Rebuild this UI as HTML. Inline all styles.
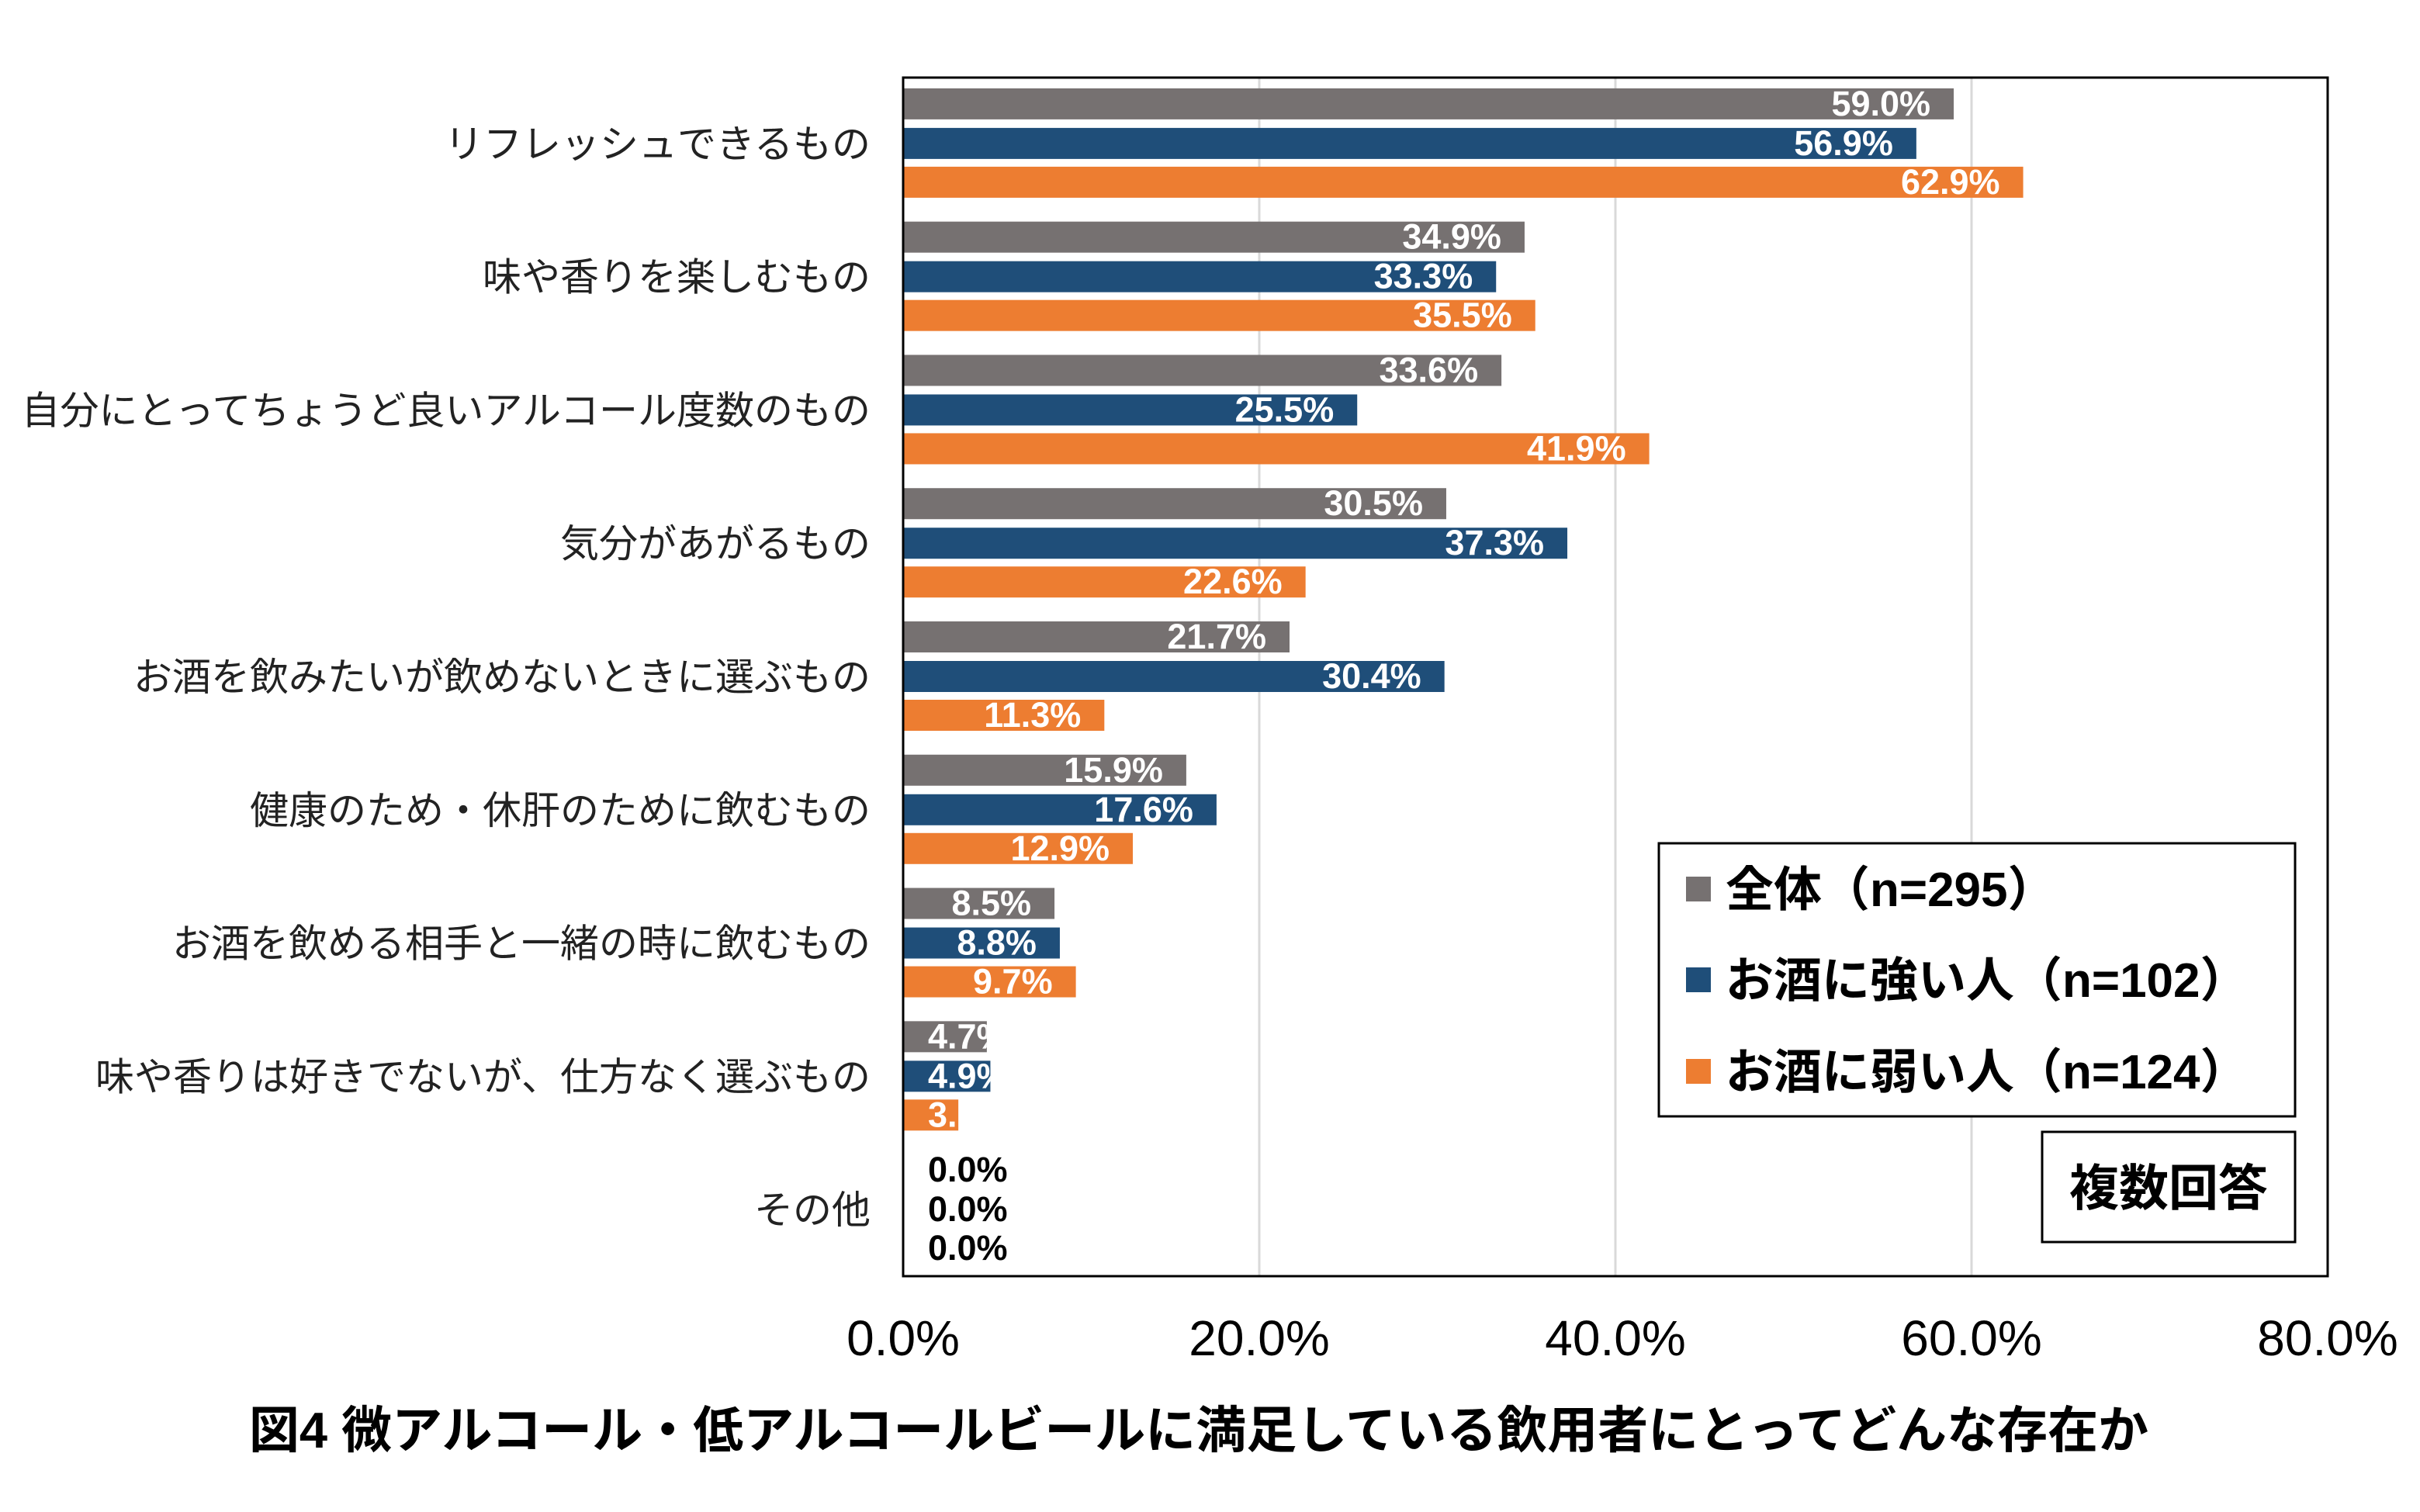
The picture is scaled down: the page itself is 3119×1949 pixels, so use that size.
<!DOCTYPE html>
<html><head><meta charset="utf-8"><style>
html,body{margin:0;padding:0;background:#fff;}
svg{display:block;font-family:"Liberation Sans","Noto Sans CJK JP",sans-serif;}
</style></head><body>
<svg id="chart" width="3119" height="1949" viewBox="0 0 3119 1949" xmlns="http://www.w3.org/2000/svg">
<defs id="defs"></defs>
<g id="grid"></g>
<g id="bars"></g>
<rect x="1164" y="100" width="1836" height="1545" fill="none" stroke="#000" stroke-width="3"/>
<g id="cats"></g>
<g id="xticks"></g>
<g>
<rect x="2138" y="1087" width="820" height="352" fill="#fff" stroke="#000" stroke-width="3"/>
<rect x="2173" y="1130" width="32" height="32" fill="#767171"/>
<text x="2224" y="1168" font-size="62" font-weight="bold">全体（n=295）</text>
<rect x="2173" y="1247" width="32" height="32" fill="#1F4E79"/>
<text x="2224" y="1285" font-size="62" font-weight="bold">お酒に強い人（n=102）</text>
<rect x="2173" y="1365" width="32" height="32" fill="#ED7D31"/>
<text x="2224" y="1403" font-size="62" font-weight="bold">お酒に弱い人（n=124）</text>
</g>
<rect x="2632" y="1459" width="326" height="142" fill="#fff" stroke="#000" stroke-width="3"/>
<text x="2795" y="1554" font-size="64" font-weight="bold" text-anchor="middle">複数回答</text>
<text x="1545" y="1866" font-size="65" font-weight="bold" text-anchor="middle">図4 微アルコール・低アルコールビールに満足している飲用者にとってどんな存在か</text>
</svg>
<script>
const categories=["リフレッシュできるもの","味や香りを楽しむもの","自分にとってちょうど良いアルコール度数のもの","気分があがるもの","お酒を飲みたいが飲めないときに選ぶもの","健康のため・休肝のために飲むもの","お酒を飲める相手と一緒の時に飲むもの","味や香りは好きでないが、仕方なく選ぶもの","その他"];
const seriesAll=[59.0,34.9,33.6,30.5,21.7,15.9,8.5,4.7,0.0];
const seriesStrong=[56.9,33.3,25.5,37.3,30.4,17.6,8.8,4.9,0.0];
const seriesWeak=[62.9,35.5,41.9,22.6,11.3,12.9,9.7,3.1,0.0];
const tickValues=[0,20,40,60,80];
const tickLabels=["0.0%","20.0%","40.0%","60.0%","80.0%"];
const NS="http://www.w3.org/2000/svg";
const X0=1164,X1=3000,Y0=99,Y1=1645;
function xs(v){return X0+(v/80)*(X1-X0);}
function band(i){return Y0+(i+0.5)*(Y1-Y0)/categories.length;}
function mk(tag,attrs,parent){const e=document.createElementNS(NS,tag);for(const k in attrs)e.setAttribute(k,attrs[k]);parent.appendChild(e);return e;}
const grid=document.getElementById('grid'),bars=document.getElementById('bars'),cats=document.getElementById('cats'),xt=document.getElementById('xticks'),defs=document.getElementById('defs');
tickValues.forEach((t,i)=>{
 if(t>0&&t<80){const l=mk('line',{x1:xs(t),x2:xs(t),y1:Y0,y2:Y1,stroke:'#d9d9d9','stroke-width':3},grid);
 
 }
 const tx=mk('text',{x:xs(t),y:1747,'font-size':64,'text-anchor':'middle',fill:'#000'},xt);tx.textContent=tickLabels[i];
 
 
});
const series=[{d:seriesAll,c:'#767171',o:-51,n:'all'},{d:seriesStrong,c:'#1F4E79',o:0,n:'strong'},{d:seriesWeak,c:'#ED7D31',o:50,n:'weak'}];
let cid=0;
categories.forEach((cat,i)=>{
 const cy=band(i);
 const ct=mk('text',{x:1122,y:cy+18,'font-size':50,'text-anchor':'end',fill:'#222'},cats);ct.textContent=cat;
 
 
 series.forEach(s=>{
  const v=s.d[i],y=cy+s.o-20,w=xs(v)-X0;
  if(v>0){const r=mk('rect',{x:X0,y:y,width:w,height:40,fill:s.c},bars);
   
   }
  let t;
  if(v===0){t=mk('text',{x:1196,y:y+35,'font-size':45,'font-weight':'bold',fill:'#000'},bars);}
  else if(w<150){const id='clip'+(cid++);const cp=mk('clipPath',{id:id},defs);mk('rect',{x:X0,y:y,width:w,height:40},cp);
   t=mk('text',{x:1196,y:y+35,'font-size':45,'font-weight':'bold',fill:'#fff','clip-path':'url(#'+id+')'},bars);}
  else{t=mk('text',{x:xs(v)-30,y:y+35,'font-size':45,'font-weight':'bold',fill:'#fff','text-anchor':'end'},bars);}
  t.textContent=v.toFixed(1)+'%';
  
  
 });
});
</script>
</body></html>
